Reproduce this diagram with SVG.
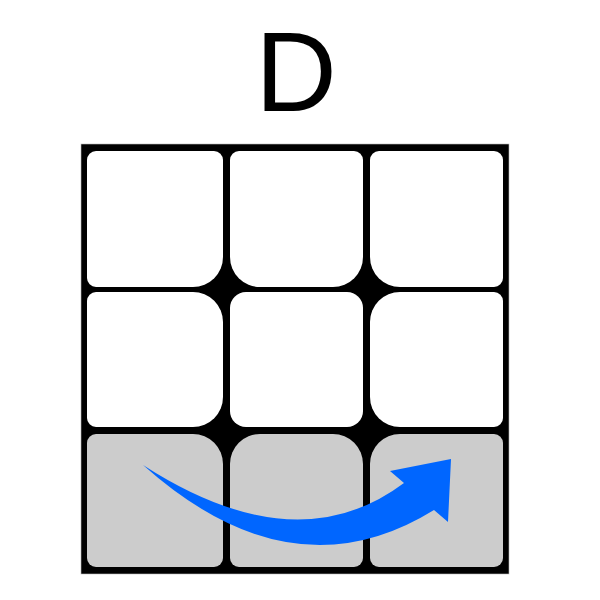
<svg xmlns="http://www.w3.org/2000/svg" width="600" height="600" viewBox="0 0 600 600">
<style>
.w{fill:#ffffff}
.g{fill:#cccccc}
.lbl{font-family:"Liberation Sans",Arial,sans-serif;font-size:113px;fill:#000}
</style>
<rect width="600" height="600" fill="#ffffff"/>
<text class="lbl" x="296" y="111" text-anchor="middle">D</text>
<g id="face">
<rect x="81" y="144" width="428" height="430" fill="#000" stroke="#bbbbbb" stroke-width="0.6"/>
</g>
<g id="s00"><path class="w" d="M96,151 H214 A9 9 0 0 1 223,160 V257 A30 30 0 0 1 193,287 H96 A9 9 0 0 1 87,278 V160 A9 9 0 0 1 96,151 Z"/></g>
<g id="s01"><path class="w" d="M239,151 H354 A9 9 0 0 1 363,160 V257 A30 30 0 0 1 333,287 H260 A30 30 0 0 1 230,257 V160 A9 9 0 0 1 239,151 Z"/></g>
<g id="s02"><path class="w" d="M379,151 H494 A9 9 0 0 1 503,160 V278 A9 9 0 0 1 494,287 H400 A30 30 0 0 1 370,257 V160 A9 9 0 0 1 379,151 Z"/></g>
<g id="s10"><path class="w" d="M96,292 H193 A30 30 0 0 1 223,322 V397 A30 30 0 0 1 193,427 H96 A9 9 0 0 1 87,418 V301 A9 9 0 0 1 96,292 Z"/></g>
<g id="s11"><rect class="w" x="230" y="292" width="133" height="135" rx="16"/></g>
<g id="s12"><path class="w" d="M400,292 H494 A9 9 0 0 1 503,301 V418 A9 9 0 0 1 494,427 H400 A30 30 0 0 1 370,397 V322 A30 30 0 0 1 400,292 Z"/></g>
<g id="s20"><path class="g" d="M96,434 H193 A30 30 0 0 1 223,464 V558 A9 9 0 0 1 214,567 H96 A9 9 0 0 1 87,558 V443 A9 9 0 0 1 96,434 Z"/></g>
<g id="s21"><path class="g" d="M260,434 H333 A30 30 0 0 1 363,464 V558 A9 9 0 0 1 354,567 H239 A9 9 0 0 1 230,558 V464 A30 30 0 0 1 260,434 Z"/></g>
<g id="s22"><path class="g" d="M400,434 H494 A9 9 0 0 1 503,443 V558 A9 9 0 0 1 494,567 H379 A9 9 0 0 1 370,558 V464 A30 30 0 0 1 400,434 Z"/></g>
<g id="connectors">
<path d="M143,465 Q296,564 404,483 L390,471 L451,459 L448,522 L434,510 Q292,598 143,465 Z" fill="#0066ff"/>
</g>
</svg>
